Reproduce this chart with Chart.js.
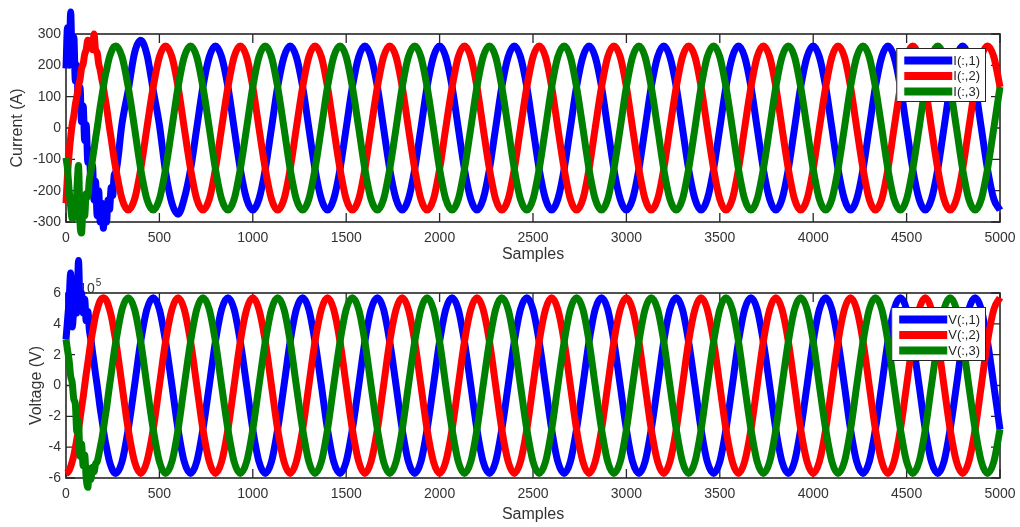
<!DOCTYPE html>
<html>
<head>
<meta charset="utf-8">
<title>Three-phase current and voltage</title>
<script src="https://cdn.jsdelivr.net/npm/chart.js@4.4.1/dist/chart.umd.min.js"></script>
<style>
  html, body { margin: 0; padding: 0; background: #fff; }
  .panel { position: absolute; left: 0; }
  canvas { display: block; }
</style>
</head>
<body>
<div class="panel" style="top:0"><canvas id="currentChart" width="1020" height="270"></canvas></div>
<div class="panel" style="top:250px"><canvas id="voltageChart" width="1020" height="277"></canvas></div>
<script>
// Sample index of every stored point (dense during the start-up transient)
const samples = [
  0,8,17,25,33,42,50,58,67,75,83,92,100,108,117,125,133,142,150,158,167,175,183,192,200,208,217,225,233,242,250,258,267,
  300,333,367,400,433,467,
  500,533,567,600,633,667,700,733,767,800,833,867,900,933,967,
  1000,1033,1067,1100,1133,1167,1200,1233,1267,1300,1333,1367,1400,1433,1467,
  1500,1533,1567,1600,1633,1667,1700,1733,1767,1800,1833,1867,1900,1933,1967,
  2000,2033,2067,2100,2133,2167,2200,2233,2267,2300,2333,2367,2400,2433,2467,
  2500,2533,2567,2600,2633,2667,2700,2733,2767,2800,2833,2867,2900,2933,2967,
  3000,3033,3067,3100,3133,3167,3200,3233,3267,3300,3333,3367,3400,3433,3467,
  3500,3533,3567,3600,3633,3667,3700,3733,3767,3800,3833,3867,3900,3933,3967,
  4000,4033,4067,4100,4133,4167,4200,4233,4267,4300,4333,4367,4400,4433,4467,
  4500,4533,4567,4600,4633,4667,4700,4733,4767,4800,4833,4867,4900,4933,4967,
  5000
];

// Phase currents I(:,1..3) in A
const currentPhase1 = [
  190,320,200,370,215,290,150,200,60,130,20,70,-40,10,-110,-70,-170,-120,-230,-170,-280,-200,-300,-240,-320,-250,-300,-230,-260,-190,-215,-150,-140,
  15,120,240,
  280,235,120,10,-140,-240,-275,-225,-131,0,131,227,
  262,227,131,0,-131,-227,-262,-227,-131,0,131,227,
  262,227,131,0,-131,-227,-262,-227,-131,0,131,227,
  262,227,131,0,-131,-227,-262,-227,-131,0,131,227,
  262,227,131,0,-131,-227,-262,-227,-131,0,131,227,
  262,227,131,0,-131,-227,-262,-227,-131,0,131,227,
  262,227,131,0,-131,-227,-262,-227,-131,0,131,227,
  262,227,131,0,-131,-227,-262,-227,-131,0,131,227,
  262,227,131,0,-131,-227,-262,-227,-131,0,131,227,
  262,227,131,0,-131,-227,-262,-227,-131,0,131,227,
  262,227,131,0,-131,-227,-262,-227,-131,0,131,227,
  262,227,131,0,-131,-227,-262
];
const currentPhase2 = [
  -240,-150,-80,-30,10,40,75,100,135,155,190,205,235,250,280,255,265,250,300,250,240,205,185,155,131,100,68,34,0,-34,-68,-100,-131,
  -227,-262,-227,-131,0,131,227,
  262,227,131,0,-131,-227,-262,-227,-131,0,131,227,
  262,227,131,0,-131,-227,-262,-227,-131,0,131,227,
  262,227,131,0,-131,-227,-262,-227,-131,0,131,227,
  262,227,131,0,-131,-227,-262,-227,-131,0,131,227,
  262,227,131,0,-131,-227,-262,-227,-131,0,131,227,
  262,227,131,0,-131,-227,-262,-227,-131,0,131,227,
  262,227,131,0,-131,-227,-262,-227,-131,0,131,227,
  262,227,131,0,-131,-227,-262,-227,-131,0,131,227,
  262,227,131,0,-131,-227,-262,-227,-131,0,131,227,
  262,227,131,0,-131,-227,-262,-227,-131,0,131,227,
  262,227,131,0,-131,-227,-262,-227,-131,0,131,227,
  262,227,131
];
const currentPhase3 = [
  -95,-130,-200,-250,-290,-240,-285,-200,-120,-300,-335,-250,-280,-210,-220,-165,-140,-100,-68,-34,0,34,68,100,131,160,185,208,227,242,253,260,262,
  227,131,0,-131,-227,-262,-227,-131,0,131,227,
  262,227,131,0,-131,-227,-262,-227,-131,0,131,227,
  262,227,131,0,-131,-227,-262,-227,-131,0,131,227,
  262,227,131,0,-131,-227,-262,-227,-131,0,131,227,
  262,227,131,0,-131,-227,-262,-227,-131,0,131,227,
  262,227,131,0,-131,-227,-262,-227,-131,0,131,227,
  262,227,131,0,-131,-227,-262,-227,-131,0,131,227,
  262,227,131,0,-131,-227,-262,-227,-131,0,131,227,
  262,227,131,0,-131,-227,-262,-227,-131,0,131,227,
  262,227,131,0,-131,-227,-262,-227,-131,0,131,227,
  262,227,131,0,-131,-227,-262,-227,-131,0,131,227,
  262,227,131,0,-131,-227,-262,-227,-131,0,131
];

// Phase voltages V(:,1..3) in V
const voltagePhase1 = [
  300000,420000,560000,730000,380000,500000,620000,470000,810000,520000,600000,470000,560000,420000,480000,360000,300000,
  218000,148000,74000,0,-74000,-148000,-218000,-285000,-347000,-403000,-452000,-494000,-527000,-551000,-565000,-570000,
  -494000,-285000,0,285000,494000,
  570000,494000,285000,0,-285000,-494000,-570000,-494000,-285000,0,285000,494000,
  570000,494000,285000,0,-285000,-494000,-570000,-494000,-285000,0,285000,494000,
  570000,494000,285000,0,-285000,-494000,-570000,-494000,-285000,0,285000,494000,
  570000,494000,285000,0,-285000,-494000,-570000,-494000,-285000,0,285000,494000,
  570000,494000,285000,0,-285000,-494000,-570000,-494000,-285000,0,285000,494000,
  570000,494000,285000,0,-285000,-494000,-570000,-494000,-285000,0,285000,494000,
  570000,494000,285000,0,-285000,-494000,-570000,-494000,-285000,0,285000,494000,
  570000,494000,285000,0,-285000,-494000,-570000,-494000,-285000,0,285000,494000,
  570000,494000,285000,0,-285000,-494000,-570000,-494000,-285000,0,285000,494000,
  570000,494000,285000,0,-285000,-494000,-570000,-494000,-285000,0,285000,494000,
  570000,494000,285000,0,-285000,-494000,-570000,-494000,-285000,0,285000,494000,
  570000,494000,285000,0,-285000
];
const voltagePhase2 = [
  -570000,-565000,-551000,-527000,-494000,-452000,-403000,-347000,-285000,-218000,-148000,-74000,0,
  74000,148000,218000,285000,347000,403000,452000,494000,527000,551000,565000,570000,565000,551000,527000,494000,452000,403000,347000,285000,
  0,-285000,-494000,-570000,-494000,-285000,0,285000,494000,
  570000,494000,285000,0,-285000,-494000,-570000,-494000,-285000,0,285000,494000,
  570000,494000,285000,0,-285000,-494000,-570000,-494000,-285000,0,285000,494000,
  570000,494000,285000,0,-285000,-494000,-570000,-494000,-285000,0,285000,494000,
  570000,494000,285000,0,-285000,-494000,-570000,-494000,-285000,0,285000,494000,
  570000,494000,285000,0,-285000,-494000,-570000,-494000,-285000,0,285000,494000,
  570000,494000,285000,0,-285000,-494000,-570000,-494000,-285000,0,285000,494000,
  570000,494000,285000,0,-285000,-494000,-570000,-494000,-285000,0,285000,494000,
  570000,494000,285000,0,-285000,-494000,-570000,-494000,-285000,0,285000,494000,
  570000,494000,285000,0,-285000,-494000,-570000,-494000,-285000,0,285000,494000,
  570000,494000,285000,0,-285000,-494000,-570000,-494000,-285000,0,285000,494000,
  570000,494000,285000,0,-285000,-494000,-570000,-494000,-285000,0,285000,494000,
  570000
];
const voltagePhase3 = [
  300000,230000,160000,60000,20000,-90000,-120000,-300000,-230000,-460000,-380000,-520000,-450000,-600000,-660000,-540000,-610000,-530000,-560000,-510000,
  -494000,-452000,-403000,-347000,-285000,-218000,-148000,-74000,0,74000,148000,218000,285000,
  494000,
  570000,494000,285000,0,-285000,-494000,-570000,-494000,-285000,0,285000,494000,
  570000,494000,285000,0,-285000,-494000,-570000,-494000,-285000,0,285000,494000,
  570000,494000,285000,0,-285000,-494000,-570000,-494000,-285000,0,285000,494000,
  570000,494000,285000,0,-285000,-494000,-570000,-494000,-285000,0,285000,494000,
  570000,494000,285000,0,-285000,-494000,-570000,-494000,-285000,0,285000,494000,
  570000,494000,285000,0,-285000,-494000,-570000,-494000,-285000,0,285000,494000,
  570000,494000,285000,0,-285000,-494000,-570000,-494000,-285000,0,285000,494000,
  570000,494000,285000,0,-285000,-494000,-570000,-494000,-285000,0,285000,494000,
  570000,494000,285000,0,-285000,-494000,-570000,-494000,-285000,0,285000,494000,
  570000,494000,285000,0,-285000,-494000,-570000,-494000,-285000,0,285000,494000,
  570000,494000,285000,0,-285000,-494000,-570000,-494000,-285000,0,285000,494000,
  570000,494000,285000,0,-285000,-494000,-570000,-494000,-285000
];

// Axis ticks
const sampleTicks = [0,500,1000,1500,2000,2500,3000,3500,4000,4500,5000];
const currentTicks = [-300,-200,-100,0,100,200,300];
const voltageTicks = [-600000,-400000,-200000,0,200000,400000,600000];
const voltageExponent = 5;

const currentLabels = ['I(:,1)','I(:,2)','I(:,3)'];
const voltageLabels = ['V(:,1)','V(:,2)','V(:,3)'];
const phaseColors = ['#0000ff','#ff0000','#008000'];

Chart.defaults.font.family = '"Liberation Sans", Arial, Helvetica, sans-serif';
Chart.defaults.font.size = 14;
Chart.defaults.color = '#333333';

const AXIS_COLOR = '#262626';

// Box around the axes with inward tick marks on all four sides
const axesFrame = {
  id: 'axesFrame',
  beforeDatasetsDraw(chart) {
    const {ctx, chartArea: a, scales} = chart;
    const len = 9;
    ctx.save();
    ctx.strokeStyle = AXIS_COLOR;
    ctx.lineWidth = 1.6;
    ctx.strokeRect(a.left, a.top, a.right - a.left, a.bottom - a.top);
    ctx.lineWidth = 1.3;
    ctx.beginPath();
    for (const t of scales.x.ticks) {
      const x = scales.x.getPixelForValue(t.value);
      ctx.moveTo(x, a.bottom); ctx.lineTo(x, a.bottom - len);
      ctx.moveTo(x, a.top); ctx.lineTo(x, a.top + len);
    }
    for (const t of scales.y.ticks) {
      const y = scales.y.getPixelForValue(t.value);
      ctx.moveTo(a.left, y); ctx.lineTo(a.left + len, y);
      ctx.moveTo(a.right, y); ctx.lineTo(a.right - len, y);
    }
    ctx.stroke();
    ctx.restore();
  }
};

// "×10^n" multiplier written above the top-left corner of the axes
const axisExponent = {
  id: 'axisExponent',
  beforeDatasetsDraw(chart, args, opts) {
    if (!opts || opts.power == null) return;
    const {ctx, chartArea: a} = chart;
    ctx.save();
    ctx.fillStyle = '#333333';
    ctx.textBaseline = 'alphabetic';
    ctx.textAlign = 'left';
    ctx.font = '14px "Liberation Sans", Arial, sans-serif';
    const base = '\u00d710';
    const x0 = a.left + 5;
    const y0 = a.top;
    ctx.fillText(base, x0, y0);
    const w = ctx.measureText(base).width;
    ctx.font = '10px "Liberation Sans", Arial, sans-serif';
    ctx.fillText(String(opts.power), x0 + w + 1, y0 - 7);
    ctx.restore();
  }
};

// Boxed legend placed inside the upper-right corner of the axes
const insetLegend = {
  id: 'insetLegend',
  afterDraw(chart) {
    const {ctx, chartArea: a} = chart;
    const sets = chart.data.datasets;
    ctx.save();
    ctx.font = '13px "Liberation Sans", Arial, sans-serif';
    let textW = 0;
    for (const d of sets) textW = Math.max(textW, ctx.measureText(d.label).width);
    const padL = 8, lineLen = 48, gap = 1, padR = 6;
    const boxW = padL + lineLen + gap + textW + padR;
    const boxH = 54;
    const right = a.right - 14;
    const left = right - boxW;
    const top = a.top + 14;
    ctx.fillStyle = '#ffffff';
    ctx.fillRect(left, top, boxW, boxH);
    ctx.strokeStyle = AXIS_COLOR;
    ctx.lineWidth = 1;
    ctx.strokeRect(left + 0.5, top + 0.5, boxW - 1, boxH - 1);
    const rows = [12.5, 28, 43.5];
    sets.forEach((d, i) => {
      const y = top + rows[i];
      ctx.strokeStyle = d.borderColor;
      ctx.lineWidth = 8;
      ctx.lineCap = 'butt';
      ctx.beginPath();
      ctx.moveTo(left + padL, y);
      ctx.lineTo(left + padL + lineLen, y);
      ctx.stroke();
      ctx.fillStyle = '#262626';
      ctx.textBaseline = 'middle';
      ctx.textAlign = 'left';
      ctx.fillText(d.label, left + padL + lineLen + gap, y + 0.5);
    });
    ctx.restore();
  }
};

function makeDatasets(series, labels) {
  // later phases are drawn over earlier ones
  return series.map((values, i) => ({
    label: labels[i],
    data: samples.map((s, k) => ({x: s, y: values[k]})),
    borderColor: phaseColors[i],
    backgroundColor: phaseColors[i],
    borderWidth: 7,
    pointRadius: 0,
    pointHoverRadius: 0,
    cubicInterpolationMode: 'monotone',
    fill: false,
    clip: false,
    order: series.length - i
  }));
}

function makeChart(canvasId, cfg) {
  return new Chart(document.getElementById(canvasId), {
    type: 'line',
    data: {datasets: makeDatasets(cfg.series, cfg.labels)},
    plugins: cfg.plugins,
    options: {
      responsive: false,
      animation: false,
      devicePixelRatio: 1,
      events: [],
      layout: {autoPadding: false, padding: {top: cfg.areaTop, right: 20, left: 0, bottom: 0}},
      plugins: {
        legend: {display: false},
        tooltip: {enabled: false},
        axisExponent: cfg.exponent
      },
      scales: {
        x: {
          type: 'linear',
          min: 0, max: 5000,
          afterBuildTicks: s => { s.ticks = sampleTicks.map(v => ({value: v})); },
          afterFit: s => { s.height = cfg.xHeight; s.paddingLeft = 0; s.paddingRight = 0; },
          grid: {display: false, drawTicks: false},
          border: {display: false},
          ticks: {padding: cfg.xTickPad, maxRotation: 0, autoSkip: false, callback: v => String(v)},
          title: {display: true, text: 'Samples', font: {size: 16}, padding: {top: 0, bottom: cfg.xTitlePad}}
        },
        y: {
          type: 'linear',
          min: cfg.yTicks[0], max: cfg.yTicks[cfg.yTicks.length - 1],
          afterBuildTicks: s => { s.ticks = cfg.yTicks.map(v => ({value: v})); },
          afterFit: s => { s.width = 66; s.paddingTop = 0; s.paddingBottom = 0; },
          grid: {display: false, drawTicks: false},
          border: {display: false},
          ticks: {padding: 5, callback: cfg.yFormat},
          title: {display: true, text: cfg.yTitle, font: {size: 16}, padding: {top: cfg.yTitlePad, bottom: 0}}
        }
      }
    }
  });
}

makeChart('currentChart', {
  series: [currentPhase1, currentPhase2, currentPhase3],
  labels: currentLabels,
  plugins: [axesFrame, insetLegend],
  areaTop: 34,
  xHeight: 48,
  xTickPad: 8,
  xTitlePad: 5.4,
  yTicks: currentTicks,
  yFormat: v => String(v),
  yTitle: 'Current (A)',
  yTitlePad: 8.4
});

makeChart('voltageChart', {
  series: [voltagePhase1, voltagePhase2, voltagePhase3],
  labels: voltageLabels,
  plugins: [axesFrame, axisExponent, insetLegend],
  exponent: {power: voltageExponent},
  areaTop: 43,
  xHeight: 49,
  xTickPad: 8,
  xTitlePad: 2.4,
  yTicks: voltageTicks,
  yFormat: v => String(Math.round(v / Math.pow(10, voltageExponent))),
  yTitle: 'Voltage (V)',
  yTitlePad: 27
});
</script>
</body>
</html>
